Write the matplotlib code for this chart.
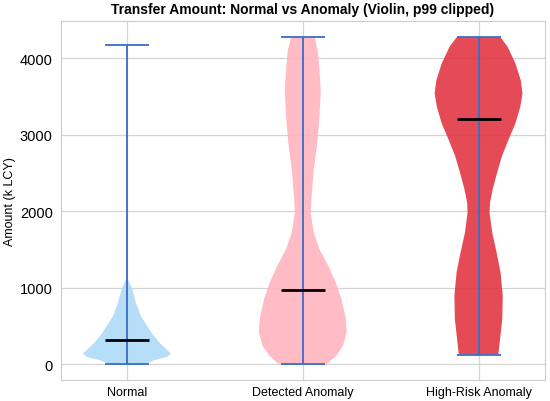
import numpy as np
from matplotlib import pyplot as plt

plt.rcParams['font.family'] = ['Liberation Sans', 'DejaVu Sans']

categories = ["Normal", "Detected Anomaly", "High-Risk Anomaly"]
colors = ["#abd9f8", "#ffb5bf", "#e2323e"]
alphas = [0.85, 0.9, 0.88]

# density profiles (amount, relative width)
normal_y = [9, 56, 100, 143, 186, 273, 381, 511, 641, 814, 987, 1139]
normal_w = [0.43, 0.62, 0.92, 1.0, 0.92, 0.76, 0.6, 0.45, 0.31, 0.2, 0.12, 0.0]

detected_y = [10, 121, 251, 425, 597, 857, 1074, 1290, 1506, 1723, 1983, 2113,
              2545, 2892, 3238, 3584, 3931, 4104, 4273]
detected_w = [0.56, 0.77, 0.92, 1.0, 0.98, 0.88, 0.75, 0.58, 0.38, 0.25, 0.18, 0.19,
              0.25, 0.33, 0.38, 0.41, 0.37, 0.34, 0.27]

highrisk_y = [130, 338, 597, 900, 1204, 1463, 1723, 1983, 2113, 2286, 2502, 2718,
              2935, 3152, 3368, 3541, 3714, 3931, 4152, 4273]
highrisk_w = [0.45, 0.49, 0.54, 0.55, 0.5, 0.41, 0.31, 0.25, 0.26, 0.32, 0.42, 0.53,
              0.68, 0.84, 0.95, 1.0, 0.96, 0.84, 0.66, 0.5]

medians = [316, 978, 3203]
mins = [9, 10, 130]
maxs = [4173, 4273, 4273]

profiles = [(normal_y, normal_w), (detected_y, detected_w), (highrisk_y, highrisk_w)]

vpstats = []
for (ys, ws), med, lo, hi in zip(profiles, medians, mins, maxs):
    vpstats.append({
        "coords": np.array(ys, dtype=float),
        "vals": np.array(ws, dtype=float),
        "mean": med,
        "median": med,
        "min": lo,
        "max": hi,
    })

fig = plt.figure(figsize=(5.5, 4.02), dpi=100)
ax = fig.add_axes([0.111, 0.052, 0.879, 0.893])

positions = [1, 2, 3]
parts = ax.violin(vpstats, positions=positions, widths=0.5,
                  showmeans=False, showextrema=True, showmedians=True)

for body, c, a in zip(parts["bodies"], colors, alphas):
    body.set_facecolor(c)
    body.set_edgecolor("none")
    body.set_alpha(a)

for key in ("cbars", "cmins", "cmaxes"):
    parts[key].set_color("#3a6cc8")
    parts[key].set_linewidth(1.3)
parts["cmedians"].set_color("black")
parts["cmedians"].set_linewidth(2)

ax.set_xticks(positions)
ax.set_xticklabels(categories, fontsize=9)
ax.set_yticks([0, 1000, 2000, 3000, 4000])
ax.tick_params(axis="y", labelsize=10.5, length=0, pad=6)
ax.tick_params(axis="x", length=0, pad=4)
ax.set_ylabel("Amount (k LCY)", fontsize=9, labelpad=3)
ax.set_title("Transfer Amount: Normal vs Anomaly (Violin, p99 clipped)",
             fontsize=10, fontweight="bold", pad=6)

ax.grid(True, color="#d4d4d4", linewidth=0.9)
ax.set_axisbelow(True)
for s in ax.spines.values():
    s.set_color("#cccccc")

plt.savefig("out.png", dpi=100)
plt.close()
